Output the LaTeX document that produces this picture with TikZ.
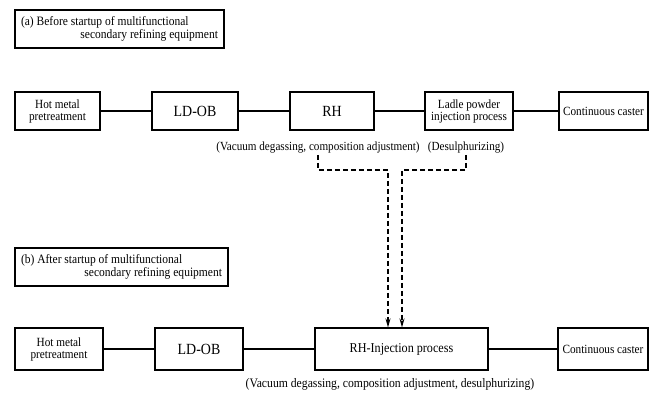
\documentclass[tikz,border=0pt]{standalone}
\usepackage{fontspec}
\setmainfont[FakeStretch=0.9]{Liberation Serif}
\usetikzlibrary{arrows.meta,positioning,calc}

\begin{document}
\begin{tikzpicture}[x=1pt,y=-1pt,
    box/.style={draw, line width=1.1pt, inner sep=1pt, align=center, minimum height=38pt, font=\fontsize{12.5}{12}\selectfont},
    bigbox/.style={box, font=\fontsize{15.5}{16}\selectfont},
    titlebox/.style={draw, line width=1.1pt, inner sep=2pt, minimum width=209pt, minimum height=38pt, font=\fontsize{12.8}{13}\selectfont},
    note/.style={font=\fontsize{12.4}{13}\selectfont, inner sep=1pt},
    link/.style={line width=1.4pt},
    dashlink/.style={line width=1.2pt, dash pattern=on 5pt off 3pt}]
    \useasboundingbox (0,0) rectangle (654,398);

    % (a) before startup
    \node[titlebox] (ta) at (119.5,29) {\begin{tabular}{@{}p{197pt}@{}}(a) Before startup of multifunctional\\ \hfill secondary refining equipment\end{tabular}};
    \node[box, minimum width=85pt] (hot1) at (57.5,111) {Hot metal\\pretreatment};
    \node[bigbox, minimum width=86pt] (ld1) at (195,111) {LD-OB};
    \node[bigbox, minimum width=84pt] (rh1) at (332,111) {RH};
    \node[box, minimum width=88pt] (ladle) at (469,111) {Ladle powder\\injection process};
    \node[box, minimum width=89pt] (cc1) at (603.5,111) {Continuous caster};
    \draw[link] (hot1) -- (ld1);
    \draw[link] (ld1) -- (rh1);
    \draw[link] (rh1) -- (ladle);
    \draw[link] (ladle) -- (cc1);
    \node[note] (vac) at (318,148) {(Vacuum degassing, composition adjustment)};
    \node[note] (desul) at (466,148) {(Desulphurizing)};

    % (b) after startup
    \node[titlebox, minimum width=213pt] (tb) at (121.5,267) {\begin{tabular}{@{}p{201pt}@{}}(b) After startup of multifunctional\\ \hfill secondary refining equipment\end{tabular}};
    \node[box, minimum width=88pt, minimum height=42pt] (hot2) at (59,349) {Hot metal\\pretreatment};
    \node[bigbox, minimum width=88pt, minimum height=42pt] (ld2) at (199,349) {LD-OB};
    \node[box, minimum width=173pt, minimum height=42pt, font=\fontsize{13.5}{14}\selectfont] (rhinj) at (401.5,349) {RH-Injection process};
    \node[box, minimum width=90pt, minimum height=42pt] (cc2) at (603,349) {Continuous caster};
    \draw[link] (hot2) -- (ld2);
    \draw[link] (ld2) -- (rhinj);
    \draw[link] (rhinj) -- (cc2);
    \node[note, font=\fontsize{13}{14}\selectfont] (vacb) at (390,384) {(Vacuum degassing, composition adjustment, desulphurizing)};

    % merging dashed paths
    \coordinate (jl) at (388,170);
    \coordinate (jr) at (402,170);
    \draw[dashlink, -{Stealth[length=9pt,width=5pt]}] (vac.south) |- (jl) -- (jl |- rhinj.north);
    \draw[dashlink, -{Stealth[length=9pt,width=5pt]}] (desul.south) |- (jr) -- (jr |- rhinj.north);
\end{tikzpicture}
\end{document}
